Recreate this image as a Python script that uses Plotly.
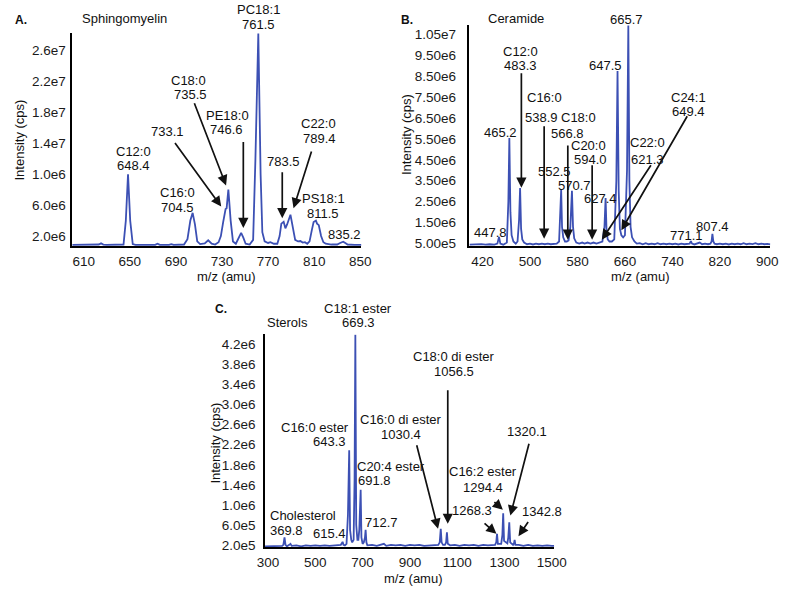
import plotly.graph_objects as go

W, H = 795, 594
FONT = "Liberation Sans, Arial, Helvetica, sans-serif"
LINE = "#3c50b4"
INK = "#111111"

# ---------------- data (m/z, intensity) ----------------
# Panel A: Sphingomyelin (intensity in 1e6 cps)
mz_a = [600, 615, 620, 623, 625, 627, 630, 640, 644.5, 646.5, 648.4, 650.3, 652.5, 655,
        665, 672, 674, 676, 684, 686, 688, 697, 700, 702.5, 704.5, 706.5, 708.5, 711,
        715, 718, 721, 724, 727, 729, 731, 733.1, 734, 735.5, 737.5, 739.5, 742, 744.5,
        746.6, 748.5, 750.5, 754, 757, 759, 761.5, 763.5, 765, 767, 770, 772, 775, 778,
        780, 781.5, 783.5, 785, 786.5, 789.4, 791.5, 793.5, 796, 798, 800, 802, 804, 806,
        808, 809.5, 811.5, 812.5, 814, 816, 818, 820, 825, 830, 832.5, 835.2, 837, 839,
        845, 851]
int_a = [0.85, 0.85, 0.85, 0.9, 1.05, 0.9, 0.85, 0.85, 0.9, 4.0, 10.0, 4.0, 0.95, 0.85,
         0.85, 0.85, 1.0, 0.85, 0.85, 0.95, 0.85, 0.9, 1.6, 4.0, 5.0, 3.5, 1.3, 0.95,
         1.05, 1.45, 1.0, 0.9, 1.2, 2.0, 3.8, 5.5, 5.6, 8.0, 4.0, 1.3, 1.0, 1.8,
         2.42, 1.8, 1.0, 0.9, 1.5, 12.0, 28.2, 10.0, 2.5, 1.3, 1.1, 1.2, 1.0, 1.0,
         2.0, 3.6, 3.83, 3.0, 3.5, 4.76, 3.0, 1.5, 1.3, 1.35, 1.15, 1.2, 1.0, 1.3,
         2.8, 3.8, 4.0, 3.6, 3.4, 2.0, 1.2, 1.0, 0.9, 0.9, 1.1, 1.27, 1.1, 0.9,
         0.85, 0.85]

# Panel B: Ceramide (intensity in 1e6 cps)
mz_b = [398, 405, 410, 418, 425, 432, 440, 445, 447.8, 450, 455, 461, 463.5, 465.2, 467,
        469, 472, 476, 479, 481.5, 483.3, 485, 487, 490, 495, 500, 505, 510, 515, 520,
        525, 530, 535, 540, 545, 549, 551, 552.5, 554, 556, 559, 562, 565, 568, 570.7,
        572.5, 574.5, 578, 583, 588, 592, 597, 602, 607, 612, 617, 622, 625.5, 627.4,
        629, 631, 634, 638, 642, 645.5, 647.5, 649.5, 651.5, 654, 657, 660, 663.5, 665.7,
        667.5, 669.5, 672, 676, 680, 685, 690, 695, 700, 705, 710, 715, 720, 725, 730,
        735, 740, 745, 750, 755, 760, 765, 769, 771.1, 773, 777, 782, 786, 790, 795,
        800, 804, 806, 807.4, 809, 811, 815, 820, 825, 830, 835, 840, 845, 850, 855,
        860, 865, 870, 875, 880, 885, 890, 895, 900, 905]
int_b = [0.45, 0.47, 0.45, 0.48, 0.45, 0.47, 0.45, 0.5, 0.82, 0.5, 0.45, 0.55, 2.5, 5.54, 2.0,
         0.9, 0.6, 0.5, 0.6, 1.6, 3.15, 1.2, 0.7, 0.55, 0.47, 0.5, 0.46, 0.5, 0.47, 0.5,
         0.47, 0.5, 0.47, 0.48, 0.5, 0.6, 1.8, 3.06, 1.3, 0.8, 0.6, 0.6, 0.65, 1.3, 3.02,
         1.3, 0.75, 0.55, 0.5, 0.55, 0.5, 0.55, 0.5, 0.55, 0.5, 0.55, 0.6, 1.3, 2.67,
         1.1, 0.7, 0.6, 0.6, 0.7, 3.5, 8.73, 3.0, 1.2, 0.9, 0.8, 0.9, 4.0, 10.9,
         3.5, 1.3, 0.8, 0.6, 0.5, 0.52, 0.47, 0.52, 0.47, 0.5, 0.47, 0.52, 0.47, 0.5, 0.47,
         0.5, 0.47, 0.5, 0.46, 0.5, 0.47, 0.5, 0.5, 0.62, 0.5, 0.46, 0.5, 0.55, 0.47, 0.5,
         0.47, 0.5, 0.6, 0.97, 0.6, 0.5, 0.47, 0.5, 0.47, 0.5, 0.46, 0.5, 0.47, 0.5, 0.47,
         0.52, 0.47, 0.5, 0.48, 0.52, 0.47, 0.5, 0.47, 0.49, 0.46]

# Panel C: Sterols (intensity in 1e6 cps)
mz_c = [287, 300, 320, 340, 360, 365, 369.8, 374, 380, 390, 395, 400, 420, 440, 460, 480,
        500, 520, 540, 560, 580, 600, 608, 612, 615.4, 619, 625, 632, 638, 643.3, 647,
        652, 656, 662, 666, 669.3, 673, 678, 682, 686, 691.8, 695, 700, 705, 710, 712.7,
        716, 720, 740, 760, 780, 790, 800, 820, 840, 860, 880, 900, 920, 940, 960, 980,
        1000, 1020, 1026, 1030.4, 1034, 1040, 1048, 1053, 1056.5, 1060, 1070, 1090, 1110,
        1130, 1150, 1170, 1190, 1210, 1230, 1250, 1260, 1265, 1268.3, 1272, 1286, 1291,
        1294.4, 1298, 1312, 1316, 1320.1, 1324, 1336, 1340, 1342.8, 1346, 1360, 1380,
        1400, 1420, 1440, 1460, 1480, 1500, 1510]
int_c = [0.17, 0.17, 0.18, 0.17, 0.18, 0.2, 0.35, 0.2, 0.17, 0.2, 0.22, 0.18, 0.19, 0.17, 0.19, 0.18,
         0.19, 0.18, 0.19, 0.18, 0.19, 0.19, 0.2, 0.23, 0.26, 0.2, 0.19, 0.22, 0.8, 2.09, 0.5,
         0.3, 0.25, 0.3, 1.5, 4.40, 0.6, 0.3, 0.3, 0.5, 1.3, 0.35, 0.22, 0.25, 0.35, 0.5,
         0.25, 0.19, 0.2, 0.18, 0.2, 0.22, 0.18, 0.2, 0.19, 0.2, 0.18, 0.2, 0.19, 0.2, 0.18, 0.19,
         0.2, 0.2, 0.25, 0.52, 0.25, 0.2, 0.2, 0.25, 0.45, 0.22, 0.19, 0.2, 0.18,
         0.2, 0.19, 0.2, 0.18, 0.2, 0.19, 0.2, 0.2, 0.25, 0.42, 0.22, 0.22, 0.4,
         0.83, 0.28, 0.23, 0.35, 0.65, 0.25, 0.2, 0.23, 0.3, 0.2, 0.2, 0.18,
         0.2, 0.18, 0.19, 0.18, 0.19, 0.18, 0.18]

# tick labels (as printed in the figure)
xt_a = [610, 650, 690, 730, 770, 810, 850]
yt_a = [2e6, 6e6, 10e6, 14e6, 18e6, 22e6, 26e6]
yl_a = ["2.0e6", "6.0e6", "1.0e6", "1.4e7", "1.8e7", "2.2e7", "2.6e7"]
xt_b = [420, 500, 580, 660, 740, 820, 900]
yt_b = [0.5e6, 1.5e6, 2.5e6, 3.5e6, 4.5e6, 5.5e6, 6.5e6, 7.5e6, 8.5e6, 9.5e6, 10.5e6]
yl_b = ["5.00e5", "1.50e6", "2.50e6", "3.50e6", "4.50e6", "5.50e6", "6.50e6",
        "7.50e6", "8.50e6", "9.50e6", "1.05e7"]
xt_c = [300, 500, 700, 900, 1100, 1300, 1500]
yt_c = [0.2e6, 0.6e6, 1.0e6, 1.4e6, 1.8e6, 2.2e6, 2.6e6, 3.0e6, 3.4e6, 3.8e6, 4.2e6]
yl_c = ["2.0e5", "6.0e5", "1.0e6", "1.4e6", "1.8e6", "2.2e6", "2.6e6", "3.0e6",
        "3.4e6", "3.8e6", "4.2e6"]

# ---------------- figure ----------------
fig = go.Figure()
for mz, it, ax in [(mz_a, int_a, ""), (mz_b, int_b, "2"), (mz_c, int_c, "3")]:
    fig.add_trace(go.Scatter(x=mz, y=[v * 1e6 for v in it], mode="lines",
                             line=dict(color=LINE, width=1.8), xaxis="x" + ax, yaxis="y" + ax,
                             hoverinfo="skip", showlegend=False))


def px(x):
    return x / W


def py(y):
    return 1 - y / H


def axis_common():
    return dict(showline=True, linecolor="#000000", linewidth=1.6, showgrid=False,
                zeroline=False, ticks="", tickfont=dict(family=FONT, size=13.5, color="#1a1a1a"),
                fixedrange=True)


layout = dict(
    width=W, height=H, margin=dict(l=0, r=0, t=0, b=0),
    paper_bgcolor="white", plot_bgcolor="white", showlegend=False,
    font=dict(family=FONT, color=INK),
    xaxis=dict(domain=[px(66), px(363)], range=[600, 851], anchor="y",
               tickvals=xt_a, ticklabelstandoff=2, **axis_common()),
    yaxis=dict(domain=[py(248), py(33)], range=[0.72e6, 28.3e6], anchor="x",
               tickvals=yt_a, ticktext=yl_a, ticklabelstandoff=2, **axis_common()),
    xaxis2=dict(domain=[px(474), px(783)], range=[398, 905], anchor="y2",
                tickvals=xt_b, ticklabelstandoff=2, **axis_common()),
    yaxis2=dict(domain=[py(248), py(25)], range=[0.39e6, 10.94e6], anchor="x2",
                tickvals=yt_b, ticktext=yl_b, ticklabelstandoff=9, **axis_common()),
    xaxis3=dict(domain=[px(264), px(561)], range=[287.4, 1510], anchor="y3",
                tickvals=xt_c, ticklabelstandoff=2, **axis_common()),
    yaxis3=dict(domain=[py(552), py(337)], range=[1.5e5, 4.41e6], anchor="x3",
                tickvals=yt_c, ticktext=yl_c, ticklabelstandoff=5, **axis_common()),
)
fig.update_layout(**layout)

ann = []


def text(t, x, y, size=13, bold=False, angle=0, xanchor="center"):
    ann.append(dict(text=("<b>%s</b>" % t) if bold else t, x=px(x), y=py(y),
                    xref="paper", yref="paper", xanchor=xanchor, yanchor="middle",
                    showarrow=False, textangle=angle,
                    font=dict(family=FONT, size=size, color=INK)))


def arrow(tail, tip):
    ann.append(dict(text="", x=px(tip[0]), y=py(tip[1]), xref="paper", yref="paper",
                    ax=tail[0] - tip[0], ay=tail[1] - tip[1], axref="pixel", ayref="pixel",
                    showarrow=True, arrowhead=2, arrowsize=1.2, arrowwidth=1.7,
                    arrowcolor=INK, standoff=0, startstandoff=0))


# panel labels and titles
text("A.", 5, 20, size=12, bold=True, xanchor="left")
text("B.", 402, 20, size=12, bold=True, xanchor="left")
text("C.", 211, 312, size=12, bold=True, xanchor="left")
text("Sphingomyelin", 120, 18.3)
text("Ceramide", 521.7, 18.3)
text("Sterols", 287, 325)
for cx, cy, ccx, ccy in [(12, 141, 224, 279), (410, 136, 650, 279), (213, 447, 416, 583)]:
    text("Intensity (cps)", cx, cy, angle=-90)
    text("m/z (amu)", ccx, ccy)

# Panel A labels
for t, x, y in [("PC18:1", 257, 10), ("761.5", 257.7, 25), ("C12:0", 128.7, 152.5),
                ("648.4", 129, 167), ("C16:0", 173.7, 194.3), ("704.5", 173.7, 209),
                ("733.1", 164, 132.3), ("C18:0", 185.7, 81), ("735.5", 187.7, 95.7),
                ("PE18:0", 225, 116.7), ("746.6", 224, 130.7), ("783.5", 283.3, 163.3),
                ("C22:0", 319, 125), ("789.4", 319.7, 139.3), ("PS18:1", 323.7, 200),
                ("811.5", 323.3, 215), ("835.2", 345.7, 236.7)]:
    text(t, x, y)
arrow((171.7, 143.3), (219, 208.3))
arrow((191.7, 103.3), (224, 187))
arrow((241.7, 142.5), (241.7, 230))
arrow((281.7, 172.7), (281.7, 220))
arrow((311.7, 151.7), (293.3, 210))

# Panel B labels
for t, x, y in [("665.7", 635, 20), ("C12:0", 526.7, 51.7), ("483.3", 526.7, 65.7),
                ("647.5", 613.3, 65.7), ("C24:1", 699, 98.3), ("649.4", 699, 112.3),
                ("C16:0", 550.7, 98.3), ("538.9", 548.3, 118.3), ("C18:0", 585.7, 118.3),
                ("566.8", 575, 135), ("C20:0", 596.7, 146.7), ("594.0", 598.3, 161),
                ("C22:0", 656.7, 143.3), ("621.3", 656.7, 161), ("465.2", 505.7, 133.3),
                ("552.5", 561.7, 173.3), ("570.7", 582.3, 187.3), ("627.4", 609, 200),
                ("447.8", 495.7, 234.3), ("771.1", 697.3, 237.7), ("807.4", 724, 228.3)]:
    text(t, x, y)
arrow((527.3, 73.3), (527.3, 189.3))
arrow((550.7, 126.7), (550.7, 240.7))
arrow((575, 146), (575, 241.7))
arrow((600, 165.7), (600, 241.7))
arrow((660, 165.7), (610, 241.7))
arrow((696.7, 116.7), (630, 232.3))

# Panel C labels
for t, x, y in [("C18:1 ester", 360, 310.7), ("669.3", 360, 325),
                ("C18:0 di ester", 458.3, 360), ("1056.5", 458.3, 375),
                ("C16:0 di ester", 403.3, 423.3), ("1030.4", 403.3, 438.3),
                ("1320.1", 533.3, 435), ("C16:2 ester", 488.3, 476), ("1294.4", 488.3, 491.7),
                ("1268.3", 476.7, 515), ("1342.8", 548.3, 516), ("C16:0 ester", 315, 430.7),
                ("643.3", 330, 445), ("C20:4 ester", 393.3, 470), ("691.8", 376, 485),
                ("712.7", 383.3, 526.7), ("Cholesterol", 302.5, 520), ("369.8", 286, 535),
                ("615.4", 330, 538.3)]:
    text(t, x, y)
arrow((451.7, 393.3), (451.7, 528.3))
arrow((420, 448.3), (441.7, 533.3))
arrow((535, 446.7), (516, 520))
arrow((498.3, 505), (508.3, 514))
arrow((488.3, 526.7), (501.7, 538.3))
arrow((535, 525), (524.3, 540.7))

fig.update_layout(annotations=ann)
fig.write_html("out.html", config={"displayModeBar": False},
               post_script="document.body.style.margin='0';document.body.style.overflow='hidden';")
